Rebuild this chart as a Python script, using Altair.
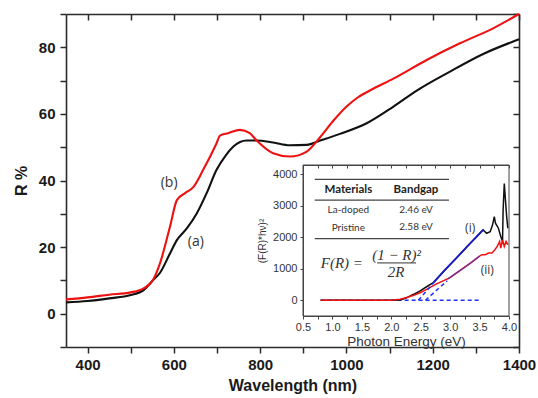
import altair as alt
import pandas as pd

# ---------------- main reflectance spectra ----------------
wl_a = [350, 400, 450, 500, 530, 552, 568, 591, 607, 630, 653, 676, 699, 720, 738, 769, 792, 830, 869, 908, 939, 985, 1047, 1109, 1163, 1240, 1317, 1400]
r_a = [3.4, 3.8, 4.6, 5.6, 7.1, 10.1, 12.3, 18.1, 22.1, 25.6, 30.1, 36.2, 43.2, 47.5, 50.2, 52.0, 52.0, 51.4, 50.6, 50.7, 52.0, 54.0, 57.2, 62.2, 67.0, 72.7, 78.0, 82.4]

wl_b = [350, 400, 450, 500, 530, 552, 568, 591, 607, 626, 645, 668, 699, 707, 726, 753, 776, 792, 830, 869, 908, 939, 970, 1001, 1027, 1060, 1109, 1186, 1263, 1340, 1400]
r_b = [4.3, 4.9, 5.7, 6.4, 7.6, 10.2, 15.2, 26.1, 34.1, 36.2, 38.0, 43.2, 51.2, 53.5, 54.2, 55.2, 54.2, 52.0, 48.2, 47.2, 48.7, 53.0, 58.0, 62.3, 65.0, 67.4, 70.6, 76.2, 81.2, 85.7, 90.0]

main_labels = ["(b)", "(a)"]
main_label_wl = [589, 651]
main_label_r = [39.2, 21.5]

x_ticks = [400, 500, 600, 700, 800, 900, 1000, 1100, 1200, 1300, 1400]
y_ticks = [-10, 0, 10, 20, 30, 40, 50, 60, 70, 80, 90]

# ---------------- inset (Tauc-type plot) ----------------
e_i = [0.8, 1.5, 2.0, 2.15, 2.25, 2.38, 2.49, 2.6, 2.72, 2.9, 3.1, 3.3, 3.45, 3.56, 3.62, 3.68, 3.72, 3.75, 3.77, 3.82, 3.86, 3.89, 3.90, 3.92, 3.94, 3.96, 3.98]
f_i = [0, 0, 0, 10, 70, 190, 300, 430, 570, 940, 1330, 1730, 2020, 2236, 2130, 2180, 2390, 2660, 2450, 2290, 2030, 1870, 2870, 3710, 3180, 2660, 2290]

e_ii = [0.8, 1.5, 2.0, 2.15, 2.25, 2.38, 2.49, 2.6, 2.77, 3.0, 3.2, 3.35, 3.5, 3.54, 3.6, 3.65, 3.71, 3.76, 3.80, 3.84, 3.86, 3.89, 3.92, 3.95, 3.98]
f_ii = [0, 0, 0, 31, 80, 157, 240, 346, 520, 720, 990, 1190, 1400, 1449, 1449, 1501, 1501, 1606, 1711, 1869, 1659, 1921, 1711, 1869, 1764]

fit_i_e = [2.72, 2.9, 3.1, 3.3, 3.45, 3.56]
fit_i_f = [570, 940, 1330, 1730, 2020, 2236]
fit_ii_e = [2.95, 3.1, 3.3, 3.5]
fit_ii_f = [670, 860, 1120, 1400]

tan_e = [2.46, 2.74, 2.58, 2.95]
tan_f = [0, 600, 0, 620]
tan_seg = ["i", "i", "ii", "ii"]

base_e = [0.8, 3.5]
base_f = [0, 0]

inset_x_lim = [0.5, 4.0]
inset_y_lim = [-500, 4300]
inset_x_ticks = [0.5, 0.75, 1.0, 1.25, 1.5, 1.75, 2.0, 2.25, 2.5, 2.75, 3.0, 3.25, 3.5, 3.75, 4.0]
inset_y_ticks = [0, 1000, 2000, 3000, 4000]

table_header = ["Materials", "Bandgap"]
table_header_e = [1.27, 2.42]
table_header_f = [3500, 3500]
table_body = ["La-doped", "2.46 eV", "Pristine", "2.58 eV"]
table_body_e = [1.27, 2.42, 1.27, 2.42]
table_body_f = [2866, 2866, 2300, 2340]
table_rule_f = [3843, 3181, 1962]
table_rule_e = [0.70, 2.98]

formula_text = ["F(R) =", "(1 − R)²", "2R"]
formula_e = [1.16, 2.09, 2.08]
formula_f = [1187, 1440, 900]
frac_bar_e = [1.76, 2.42]
frac_bar_f = [1187]

curve_labels = ["(i)", "(ii)"]
curve_label_e = [3.34, 3.63]
curve_label_f = [2290, 976]

# ---------------- geometry ----------------
W, H = 453, 333
INSET_X_RANGE = [237, 443]
INSET_Y_RANGE = [302, 151]

X_MAIN = alt.Scale(domain=[350, 1400], nice=False, zero=False)
Y_MAIN = alt.Scale(domain=[-10, 90], nice=False, zero=False)
X_IN = alt.Scale(domain=inset_x_lim, range=INSET_X_RANGE, nice=False, zero=False)
Y_IN = alt.Scale(domain=inset_y_lim, range=INSET_Y_RANGE, nice=False, zero=False)

AX_COL = "#2b2b2b"
main_style = dict(grid=False, domainColor=AX_COL, domainWidth=1.6, tickColor=AX_COL, tickWidth=1.5,
                  labelFont="Liberation Sans", labelFontSize=15, labelFontWeight="bold", labelColor="#1a1a1a",
                  titleFont="Liberation Sans", titleFontSize=16, titleFontWeight="bold", titleColor="#1a1a1a")
mirror_style = dict(grid=False, domainColor=AX_COL, domainWidth=1.6, tickColor=AX_COL, tickWidth=1.5, labels=False)

df_a = pd.DataFrame({"wl": wl_a, "R": r_a})
df_b = pd.DataFrame({"wl": wl_b, "R": r_b})
df_lab = pd.DataFrame({"wl": main_label_wl, "R": main_label_r, "t": main_labels})

line_a = alt.Chart(df_a).mark_line(color="#111111", strokeWidth=2.1, interpolate="monotone").encode(
    x=alt.X("wl:Q", scale=X_MAIN, title="Wavelength (nm)",
            axis=alt.Axis(orient="bottom", values=x_ticks, format="d",
                          labelExpr="datum.value % 200 == 0 ? datum.label : ''",
                          tickSize=6, labelPadding=4, labelFlush=False, titlePadding=5, **main_style)),
    y=alt.Y("R:Q", scale=Y_MAIN, title="R %",
            axis=alt.Axis(orient="left", values=y_ticks, format="d",
                          labelExpr="(datum.value % 20 == 0 && datum.value >= 0 && datum.value <= 80) ? datum.label : ''",
                          tickSize=6, labelPadding=5, titlePadding=9, **main_style)),
)
line_b = alt.Chart(df_b).mark_line(color="#ee1111", strokeWidth=2.1, interpolate="monotone").encode(
    x=alt.X("wl:Q", scale=X_MAIN, axis=None),
    y=alt.Y("R:Q", scale=Y_MAIN, axis=None),
)
mirror_x = alt.Chart(df_a).mark_line(opacity=0).encode(
    x=alt.X("wl:Q", scale=X_MAIN, title=None,
            axis=alt.Axis(orient="bottom", offset=-H, values=x_ticks, tickSize=6, **mirror_style)),
    y=alt.Y("R:Q", scale=Y_MAIN, axis=None),
)
mirror_y = alt.Chart(df_a).mark_line(opacity=0).encode(
    x=alt.X("wl:Q", scale=X_MAIN, axis=None),
    y=alt.Y("R:Q", scale=Y_MAIN, title=None,
            axis=alt.Axis(orient="left", offset=-W, values=y_ticks, tickSize=6, **mirror_style)),
)
labels_ab = alt.Chart(df_lab).mark_text(font="Open Sans", fontSize=14, color="#333333").encode(
    x=alt.X("wl:Q", scale=X_MAIN, axis=None),
    y=alt.Y("R:Q", scale=Y_MAIN, axis=None),
    text="t:N",
)
main = alt.layer(line_a, line_b, mirror_x, mirror_y, labels_ab).resolve_axis(x="independent", y="independent")

# ---------------- inset layers ----------------
IN_COL = "#444444"
inset_style = dict(grid=False, domainColor=IN_COL, domainWidth=1, tickColor=IN_COL, tickWidth=1, zindex=1,
                   labelFont="Liberation Sans", labelFontSize=11, labelColor="#333333",
                   titleFont="Liberation Sans", titleFontWeight="normal", titleColor="#333333")

df_frame = pd.DataFrame({"e0": [inset_x_lim[0]], "e1": [inset_x_lim[1]],
                         "f0": [inset_y_lim[0]], "f1": [inset_y_lim[1]]})
frame = alt.Chart(df_frame).mark_rect(fill="white", stroke=IN_COL, strokeWidth=1).encode(
    x=alt.X("e0:Q", scale=X_IN, title="Photon Energy (eV)",
            axis=alt.Axis(orient="bottom", offset=-(H - INSET_Y_RANGE[0]), values=inset_x_ticks, format=".1f",
                          labelExpr="(datum.value * 2) % 1 == 0 ? datum.label : ''",
                          tickSize=3, labelPadding=2, labelFlush=False, titlePadding=2, titleFontSize=13.5,
                          **inset_style)),
    x2="e1:Q",
    y=alt.Y("f0:Q", scale=Y_IN, title="(F(R)*hν)²",
            axis=alt.Axis(orient="left", offset=-INSET_X_RANGE[0], values=inset_y_ticks, format="d",
                          tickSize=3, labelPadding=3, titlePadding=5, titleFontSize=10, **inset_style)),
    y2="f1:Q",
)
frame_top = alt.Chart(df_frame).mark_point(opacity=0).encode(
    x=alt.X("e0:Q", scale=X_IN, title=None,
            axis=alt.Axis(orient="bottom", offset=-(H - INSET_Y_RANGE[1]), values=inset_x_ticks, labels=False,
                          tickSize=3, grid=False, domainColor=IN_COL, domainWidth=1, tickColor=IN_COL,
                          tickWidth=1, zindex=1)),
    y=alt.Y("f0:Q", scale=Y_IN, axis=None),
)


def inset_line(df, color, width=1.5, **kw):
    return alt.Chart(df).mark_line(color=color, strokeWidth=width, **kw).encode(
        x=alt.X("e:Q", scale=X_IN, axis=None),
        y=alt.Y("f:Q", scale=Y_IN, axis=None),
    )


c_i = inset_line(pd.DataFrame({"e": e_i, "f": f_i}), "#111111")
c_ii = inset_line(pd.DataFrame({"e": e_ii, "f": f_ii}), "#ee1111")
fit_i = inset_line(pd.DataFrame({"e": fit_i_e, "f": fit_i_f}), "#1a1acc", 1.8)
fit_ii = inset_line(pd.DataFrame({"e": fit_ii_e, "f": fit_ii_f}), "#3333dd", 1.6, opacity=0.55)
base = inset_line(pd.DataFrame({"e": base_e, "f": base_f}), "#2233ff", 1.5, strokeDash=[4, 3])
tang = alt.Chart(pd.DataFrame({"e": tan_e, "f": tan_f, "s": tan_seg})).mark_line(
    color="#2233ff", strokeWidth=1.5, strokeDash=[4, 3]).encode(
    x=alt.X("e:Q", scale=X_IN, axis=None),
    y=alt.Y("f:Q", scale=Y_IN, axis=None),
    detail="s:N",
)

df_rules = pd.DataFrame({"e0": [table_rule_e[0]] * 3, "e1": [table_rule_e[1]] * 3, "f": table_rule_f})
rules = alt.Chart(df_rules).mark_rule(color="#444444", strokeWidth=1.2).encode(
    x=alt.X("e0:Q", scale=X_IN, axis=None), x2="e1:Q",
    y=alt.Y("f:Q", scale=Y_IN, axis=None),
)
head = alt.Chart(pd.DataFrame({"e": table_header_e, "f": table_header_f, "t": table_header})).mark_text(
    font="Lato", fontSize=11.5, fontWeight="bold", color="#222222").encode(
    x=alt.X("e:Q", scale=X_IN, axis=None), y=alt.Y("f:Q", scale=Y_IN, axis=None), text="t:N")
body = alt.Chart(pd.DataFrame({"e": table_body_e, "f": table_body_f, "t": table_body})).mark_text(
    font="Lato", fontSize=10, color="#333333").encode(
    x=alt.X("e:Q", scale=X_IN, axis=None), y=alt.Y("f:Q", scale=Y_IN, axis=None), text="t:N")
formula = alt.Chart(pd.DataFrame({"e": formula_e, "f": formula_f, "t": formula_text})).mark_text(
    font="Liberation Serif", fontSize=15, fontStyle="italic", color="#333333").encode(
    x=alt.X("e:Q", scale=X_IN, axis=None), y=alt.Y("f:Q", scale=Y_IN, axis=None), text="t:N")
frac = alt.Chart(pd.DataFrame({"e0": [frac_bar_e[0]], "e1": [frac_bar_e[1]], "f": frac_bar_f})).mark_rule(
    color="#333333", strokeWidth=1).encode(
    x=alt.X("e0:Q", scale=X_IN, axis=None), x2="e1:Q", y=alt.Y("f:Q", scale=Y_IN, axis=None))
clab = alt.Chart(pd.DataFrame({"e": curve_label_e, "f": curve_label_f, "t": curve_labels})).mark_text(
    font="Open Sans", fontSize=12, color="#333333").encode(
    x=alt.X("e:Q", scale=X_IN, axis=None), y=alt.Y("f:Q", scale=Y_IN, axis=None), text="t:N")

inset = alt.layer(frame, frame_top, base, c_i, c_ii, fit_i, fit_ii, tang, rules, head, body, formula, frac, clab
                  ).resolve_axis(x="independent", y="independent")

chart = alt.layer(main, inset).resolve_scale(x="independent", y="independent").properties(
    width=W, height=H,
    padding={"left": 66, "top": 14, "right": 19, "bottom": 51},
    autosize=alt.AutoSizeParams(type="none"),
    background="white",
).configure_view(stroke=None)

chart.save("out.html", embed_options={"renderer": "svg", "actions": False})
